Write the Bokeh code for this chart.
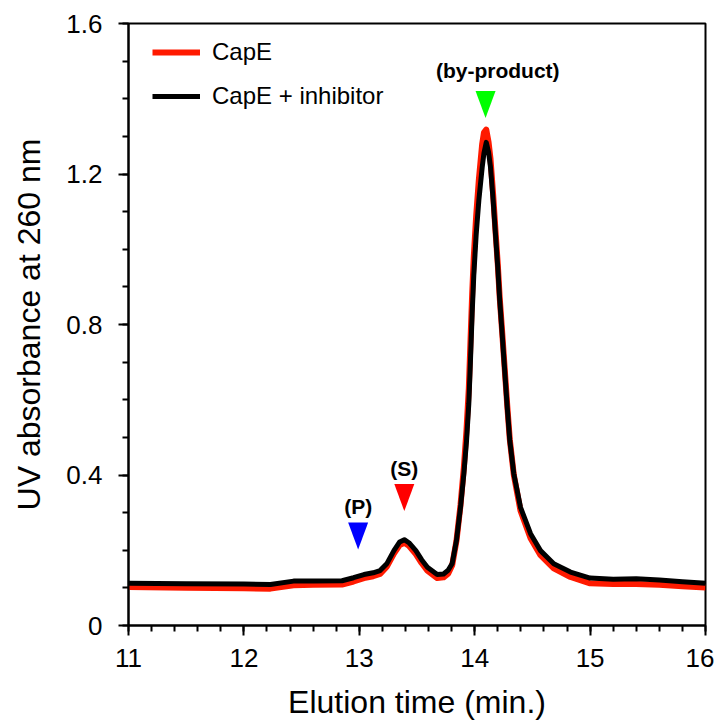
from bokeh.plotting import figure
from bokeh.models import Range1d, FixedTicker, CustomJSTickFormatter, Legend, LegendItem, ColumnDataSource, LabelSet
from bokeh.core.properties import value
from bokeh.embed import file_html
from bokeh.resources import INLINE

# ---- data ----
elution_time = [11.0, 11.5, 12.0, 12.23, 12.43, 12.6, 12.85, 12.95, 13.04, 13.12, 13.18, 13.24,
                13.30, 13.35, 13.39, 13.43, 13.49, 13.54, 13.59, 13.675, 13.73, 13.77, 13.805,
                13.842, 13.877, 13.906, 13.929, 13.949, 13.964, 13.978, 13.992, 14.013, 14.036,
                14.065, 14.08, 14.10, 14.12, 14.137, 14.16, 14.18, 14.20, 14.217, 14.238, 14.252,
                14.282, 14.304, 14.339, 14.397, 14.484, 14.57, 14.685, 14.83, 15.0, 15.2, 15.4,
                15.6, 15.8, 16.0]
cape = [0.102, 0.100, 0.099, 0.098, 0.107, 0.108, 0.109, 0.117, 0.126, 0.131, 0.137, 0.157,
        0.191, 0.214, 0.220, 0.212, 0.190, 0.166, 0.146, 0.126, 0.128, 0.138, 0.160,
        0.225, 0.320, 0.420, 0.520, 0.630, 0.760, 0.880, 0.980, 1.090, 1.185,
        1.280, 1.310, 1.318, 1.285, 1.240, 1.145, 1.050, 0.960, 0.870, 0.780, 0.718,
        0.585, 0.495, 0.400, 0.305, 0.232, 0.187, 0.152, 0.129, 0.112, 0.110, 0.110,
        0.108, 0.104, 0.101]
cape_inhibitor = [0.112, 0.111, 0.110, 0.109, 0.118, 0.118, 0.119, 0.127, 0.1355, 0.140, 0.146, 0.165,
                  0.199, 0.222, 0.228, 0.220, 0.199, 0.175, 0.155, 0.1355, 0.137, 0.147, 0.165,
                  0.226, 0.314, 0.403, 0.490, 0.590, 0.710, 0.830, 0.930, 1.040, 1.130,
                  1.218, 1.255, 1.284, 1.258, 1.218, 1.130, 1.041, 0.952, 0.864, 0.775, 0.713,
                  0.580, 0.492, 0.403, 0.314, 0.244, 0.199, 0.164, 0.142, 0.126, 0.123, 0.124,
                  0.121, 0.116, 0.112]

marker_names = ["(P)", "(S)", "(by-product)"]
marker_x = [12.99, 13.39, 14.094]
marker_tip_y = [0.202, 0.304, 1.349]
marker_colors = ["#0000ff", "#ff0000", "#00ff00"]
label_x = [12.99, 13.39, 14.2]
label_y = [0.316, 0.4165, 1.475]

x_major = [11, 12, 13, 14, 15, 16]
x_minor = [11 + 0.2 * i for i in range(26)]
y_major = [0, 0.4, 0.8, 1.2, 1.6]
y_minor = [0.1 * i for i in range(17)]

FONT = "Liberation Sans"

p = figure(width=714, height=722, output_backend="svg", toolbar_location=None,
           x_range=Range1d(11, 16), y_range=Range1d(0, 1.6),
           min_border_left=128, min_border_right=9, min_border_top=23, min_border_bottom=97)
p.background_fill_color = "white"
p.border_fill_color = "white"
p.grid.visible = False
p.outline_line_color = "black"
p.outline_line_width = 2

r_red = p.line(elution_time, cape, line_color="#ff1a00", line_width=6, line_join="round")
r_blk = p.line(elution_time, cape_inhibitor, line_color="black", line_width=5, line_join="round")

# inverted triangle markers (20 px wide, 27 px tall) built around each marker position
half_w = 10 / 115.4
tri_h = 27 / 376.25
tri_xs = [[mx - half_w, mx + half_w, mx] for mx in marker_x]
tri_ys = [[ty + tri_h, ty + tri_h, ty] for ty in marker_tip_y]
p.patches(tri_xs, tri_ys, fill_color=marker_colors, line_color=None)

src = ColumnDataSource(dict(x=label_x, y=label_y, t=marker_names))
p.add_layout(LabelSet(x="x", y="y", text="t", source=src, text_font=value(FONT), text_font_size="21px",
                      text_font_style="bold", text_align="center", text_baseline="middle",
                      text_color="black"))

for ax in (p.xaxis[0], p.yaxis[0]):
    ax.axis_line_width = 2
    ax.axis_line_color = "black"
    ax.major_tick_line_width = 2
    ax.minor_tick_line_width = 2
    ax.major_tick_in = 0
    ax.major_tick_out = 10
    ax.minor_tick_in = 0
    ax.minor_tick_out = 6
    ax.major_label_text_font = FONT
    ax.major_label_text_font_size = "26px"
    ax.major_label_text_color = "black"
    ax.axis_label_text_font = FONT
    ax.axis_label_text_font_size = "32px"
    ax.axis_label_text_font_style = "normal"
    ax.axis_label_text_color = "black"

p.xaxis.ticker = FixedTicker(ticks=x_major, minor_ticks=x_minor)
p.yaxis.ticker = FixedTicker(ticks=y_major, minor_ticks=y_minor)
p.yaxis.formatter = CustomJSTickFormatter(code="return tick == 0 ? '0' : tick.toFixed(1);")
p.xaxis.formatter = CustomJSTickFormatter(code="return tick.toFixed(0);")
p.xaxis.axis_label = "Elution time (min.)"
p.yaxis.axis_label = "UV absorbance at 260 nm"
p.xaxis.major_label_standoff = 13
p.yaxis.major_label_standoff = 16
p.xaxis.axis_label_standoff = 14
p.yaxis.axis_label_standoff = 16

legend = Legend(items=[LegendItem(label="CapE", renderers=[r_red]),
                       LegendItem(label="CapE + inhibitor", renderers=[r_blk])],
                location=(24, 507), orientation="vertical")
legend.border_line_color = None
legend.background_fill_alpha = 0
legend.padding = 0
legend.margin = 0
legend.spacing = 0
legend.glyph_width = 48
legend.glyph_height = 44
legend.label_height = 44
legend.label_standoff = 12
legend.label_text_font = FONT
legend.label_text_font_size = "24px"
legend.label_text_color = "black"
p.add_layout(legend)

open("out.html", "w").write(file_html(p, INLINE))
